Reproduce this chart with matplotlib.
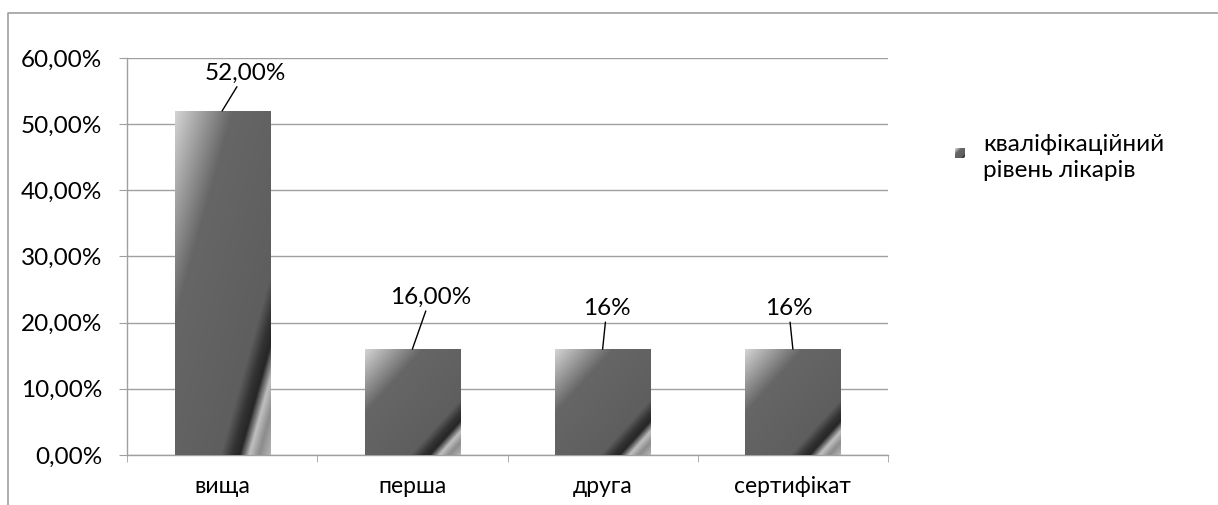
import numpy as np
import matplotlib.pyplot as plt
from matplotlib.colors import LinearSegmentedColormap
from matplotlib.lines import Line2D
from matplotlib.ticker import FuncFormatter, MultipleLocator

plt.rcParams['font.family'] = ['Lato', 'DejaVu Sans']

# ---- data ----
categories = ['вища', 'перша', 'друга', 'сертифікат']
values = [0.52, 0.16, 0.16, 0.16]
value_labels = ['52,00%', '16,00%', '16%', '16%']
series_name = 'кваліфікаційний\nрівень лікарів'

# label offsets (points) from bar top
label_offsets = [(16.5, 27), (13, 37), (3, 29), (-3, 29)]

# grey gradient like the office "chrome" preset
grad = LinearSegmentedColormap.from_list('chrome', [
    (0.00, '#d4d4d4'),
    (0.30, '#666666'),
    (0.74, '#5e5e5e'),
    (0.80, '#333333'),
    (0.84, '#262626'),
    (0.89, '#c0c0c0'),
    (0.94, '#8c8c8c'),
    (1.00, '#b4b4b4'),
])

u = np.linspace(0, 1, 200)
v = np.linspace(0, 1, 400)
U, V = np.meshgrid(u, v)
fill = (U + V) / 2.0

FS = 16.5      # words
FS_NUM = 17.5  # percent labels

fig = plt.figure(figsize=(12.18, 5.05), dpi=100)
ax = fig.add_axes([127 / 1218, 1 - 455 / 505, (888 - 127) / 1218, (455 - 58) / 505])

x = np.arange(len(categories))
width = 0.5
bars = ax.bar(x, values, width=width, color='none', edgecolor='none', zorder=3)
for b in bars:
    x0, y0 = b.get_x(), b.get_y()
    im = ax.imshow(fill, cmap=grad, vmin=0, vmax=1, aspect='auto',
                   extent=(x0, x0 + b.get_width(), y0, y0 + b.get_height()),
                   origin='upper', zorder=3, interpolation='bilinear')
    im.set_clip_path(b)

for i, (val, lab) in enumerate(zip(values, value_labels)):
    dx, dy = label_offsets[i]
    ax.annotate(lab, xy=(x[i], val), xytext=(dx, dy), textcoords='offset points',
                ha='center', va='center', fontsize=FS_NUM, color='black',
                arrowprops=dict(arrowstyle='-', color='black', lw=1,
                                shrinkA=0, shrinkB=0), zorder=5)

ax.set_xlim(-0.5, len(categories) - 0.5)
ax.set_ylim(0, 0.6)
ax.yaxis.set_major_locator(MultipleLocator(0.1))
ax.yaxis.set_major_formatter(FuncFormatter(lambda y, _: f'{y * 100:.2f}%'.replace('.', ',')))
ax.set_xticks(x)
ax.set_xticklabels(categories)
ax.set_xticks(np.arange(-0.5, len(categories)), minor=True)

ax.grid(axis='y', color='#a0a0a0', lw=1, zorder=0)
ax.set_axisbelow(True)
for s in ['top', 'right']:
    ax.spines[s].set_visible(False)
for s in ['left', 'bottom']:
    ax.spines[s].set_color('#a0a0a0')
    ax.spines[s].set_linewidth(1)

ax.tick_params(axis='y', which='major', direction='out', length=6, color='#a0a0a0',
               labelsize=FS_NUM, pad=12)
ax.tick_params(axis='x', which='major', length=0, labelsize=FS, pad=15)
ax.tick_params(axis='x', which='minor', direction='out', length=5, color='#a0a0a0')

# legend entry: small gradient square and the series name
lax = fig.add_axes([955 / 1218, 1 - 158 / 505, 10 / 1218, 10 / 505])
lax.imshow(fill[::40, ::20], cmap=grad, vmin=0, vmax=1, aspect='auto',
           interpolation='bilinear')
lax.set_axis_off()
fig.text(983 / 1218, 1 - 134 / 505, series_name, ha='left', va='top',
         fontsize=17.5, linespacing=1.3)

# outer chart frame (only top and left edges are inside the image)
fig.add_artist(Line2D([8 / 1218, 8 / 1218, 1.0], [0.0, 1 - 13 / 505, 1 - 13 / 505],
                      transform=fig.transFigure, color='#a0a0a0', lw=1.2))

fig.savefig('out.png', dpi=100)
